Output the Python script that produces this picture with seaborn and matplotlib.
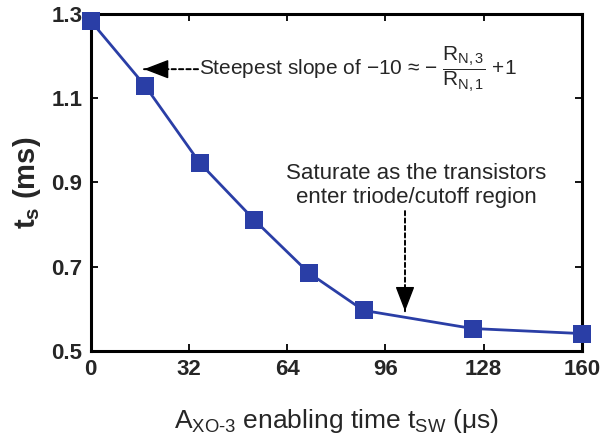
import numpy as np
import pandas as pd
import matplotlib
matplotlib.use("Agg")
import matplotlib.pyplot as plt
import seaborn as sns

# Switching-enable time (us) and resulting settling time t_s (ms)
enable_time_us = [0.0, 17.8, 35.6, 53.3, 71.1, 88.9, 124.4, 160.0]
settling_ms = [1.284, 1.129, 0.946, 0.811, 0.685, 0.596, 0.553, 0.541]

x_ticks = [0, 32, 64, 96, 128, 160]
y_ticks = [0.5, 0.7, 0.9, 1.1, 1.3]

sns.set_theme(style="ticks")
FONT = "Liberation Sans"
plt.rcParams["font.family"] = [FONT, "DejaVu Sans"]
plt.rcParams["mathtext.fontset"] = "custom"
plt.rcParams["mathtext.rm"] = FONT
plt.rcParams["mathtext.it"] = FONT + ":italic"
plt.rcParams["mathtext.bf"] = FONT + ":bold"

BLUE = "#2a3ea6"
TEXT = "#262626"

df = pd.DataFrame({"t_sw": enable_time_us, "t_s": settling_ms})

fig = plt.figure(figsize=(6.08, 4.38), dpi=100)
ax = fig.add_axes([0.149, 0.199, 0.808, 0.769])

sns.lineplot(data=df, x="t_sw", y="t_s", ax=ax, color=BLUE, lw=2.0,
             estimator=None, zorder=2)
sns.scatterplot(data=df, x="t_sw", y="t_s", ax=ax, marker="s", s=175,
                color=BLUE, edgecolor=BLUE, linewidth=0, zorder=3, clip_on=False)

ax.set_xlim(0, 160)
ax.set_ylim(0.5, 1.3)
ax.set_xticks(x_ticks)
ax.set_yticks(y_ticks)
ax.set_xticklabels([str(t) for t in x_ticks])
ax.set_yticklabels([f"{t:.1f}" for t in y_ticks])
ax.tick_params(direction="in", length=5, width=1.3, top=True, right=True,
               labelsize=16, pad=6, colors="black")
for lab in ax.get_xticklabels() + ax.get_yticklabels():
    lab.set_fontweight("bold")
    lab.set_color(TEXT)
for sp in ax.spines.values():
    sp.set_visible(True)
    sp.set_linewidth(2.2)
    sp.set_color("black")

ax.set_xlabel(r"$\mathrm{A}_{\mathrm{XO\text{-}3}}$ enabling time $\mathrm{t}_{\mathrm{SW}}$ (μs)",
              fontsize=19, labelpad=19, color=TEXT)
ax.set_ylabel(r"$\mathbf{t}_{\mathbf{s}}$ (ms)", fontsize=21, fontweight="bold",
              labelpad=6, color=TEXT)


def dashed_arrow(tail, tip, head_frac):
    """Dashed shaft with a solid filled arrowhead at `tip`."""
    ax.annotate("", xy=tip, xytext=tail,
                arrowprops=dict(arrowstyle="-", linestyle=(0, (2.2, 1.6)),
                                lw=1.4, color="black", shrinkA=0, shrinkB=0))
    head_tail = (tip[0] + (tail[0] - tip[0]) * head_frac,
                 tip[1] + (tail[1] - tip[1]) * head_frac)
    ax.annotate("", xy=tip, xytext=head_tail,
                arrowprops=dict(arrowstyle="-|>,head_length=1.3,head_width=0.5",
                                lw=1.0, color="black", shrinkA=0, shrinkB=0))


# Steepest-slope callout
dashed_arrow((35.0, 1.169), (17.4, 1.169), 0.35)
ax.text(35.3, 1.169,
        r"Steepest slope of −10 ≈ − $\dfrac{\mathrm{R}_{\mathrm{N,3}}}{\mathrm{R}_{\mathrm{N,1}}}$ +1",
        fontsize=15, va="center", ha="left", color=TEXT)

# Saturation callout
ax.text(106, 0.840, "Saturate as the transistors\nenter triode/cutoff region",
        fontsize=16, ha="center", va="bottom", color=TEXT, linespacing=1.15)
dashed_arrow((102.4, 0.832), (102.4, 0.594), 0.15)

fig.savefig("out.png", dpi=100)
